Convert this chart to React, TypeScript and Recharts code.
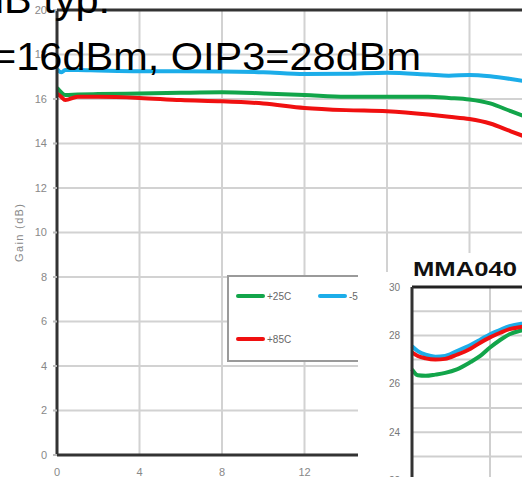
import React from 'react';
import { LineChart, Line, XAxis, YAxis, CartesianGrid, ReferenceLine, Legend } from 'recharts';

// Main chart: Gain (dB) vs frequency (GHz)
const freqGHz = [0, 0.2, 0.4, 1, 2, 4, 6, 8, 10, 12, 14, 16, 18, 19, 20, 21, 22, 23];
const gainMinus55 = [17.35, 17.2, 17.3, 17.3, 17.28, 17.25, 17.25, 17.24, 17.2, 17.12, 17.13, 17.18, 17.1, 17.05, 17.08, 17.02, 16.9, 16.75];
const gainPlus25 = [16.5, 16.3, 16.18, 16.2, 16.22, 16.25, 16.28, 16.3, 16.25, 16.18, 16.1, 16.1, 16.1, 16.05, 15.98, 15.8, 15.45, 15.1];
const gainPlus85 = [16.25, 16.1, 15.95, 16.1, 16.1, 16.05, 15.95, 15.9, 15.8, 15.6, 15.5, 15.45, 15.3, 15.2, 15.1, 14.9, 14.55, 14.2];
const mainXTicks = [0, 4, 8, 12, 16, 20, 24];
const mainYTicks = [0, 2, 4, 6, 8, 10, 12, 14, 16, 18, 20];

// Inset chart (OIP3-like curves)
const insetFreq = [0, 0.3, 0.7, 1.2, 1.7, 2.3, 3, 3.5, 4, 4.5, 5, 5.6, 6.2];
const insetMinus55 = [27.55, 27.35, 27.2, 27.12, 27.15, 27.35, 27.6, 27.82, 28.05, 28.22, 28.38, 28.48, 28.52];
const insetPlus85 = [27.3, 27.15, 27.05, 27.0, 27.03, 27.2, 27.45, 27.7, 27.92, 28.1, 28.26, 28.35, 28.4];
const insetPlus25 = [26.6, 26.35, 26.33, 26.38, 26.45, 26.6, 26.9, 27.15, 27.5, 27.8, 28.05, 28.2, 28.28];
const insetXTicks = [0, 4, 8, 12, 16, 20];
const insetYTicks = [20, 21, 22, 23, 24, 25, 26, 27, 28, 29, 30];

const seriesNames = { cold: '-55C', room: '+25C', hot: '+85C' };
const colors = { cold: '#1cade9', room: '#12a54a', hot: '#f01010' };

const mainData = freqGHz.map((f, i) => ({ f, cold: gainMinus55[i], room: gainPlus25[i], hot: gainPlus85[i] }));
const insetData = insetFreq.map((f, i) => ({ f, cold: insetMinus55[i], room: insetPlus25[i], hot: insetPlus85[i] }));

const smallFont = 'Liberation Sans, Arial, sans-serif';

const LegendBox = () => (
  <div
    style={{
      width: 170,
      height: 83,
      border: '2px solid #9a9a9a',
      background: '#fff',
      position: 'relative',
      fontFamily: smallFont,
      fontSize: 10,
      color: '#666',
    }}
  >
    {[
      { key: 'room', left: 7, top: 19 },
      { key: 'cold', left: 89, top: 19 },
      { key: 'hot', left: 7, top: 62 },
    ].map((it) => (
      <div key={it.key} style={{ position: 'absolute', left: it.left, top: it.top - 7, display: 'flex', alignItems: 'center', height: 14 }}>
        <div style={{ width: 29, height: 4, background: (colors as any)[it.key], borderRadius: 2 }} />
        <span style={{ marginLeft: 2 }}>{(seriesNames as any)[it.key]}</span>
      </div>
    ))}
  </div>
);

const InsetTick = (props: any) => {
  const { x, y, payload } = props;
  if (payload.value % 2 !== 0) return null;
  return (
    <text x={x} y={y} dy={3.5} textAnchor="end" fontSize={10} fill="#777" fontFamily={smallFont}>
      {payload.value}
    </text>
  );
};

export default function App() {
  return (
    <div style={{ position: 'absolute', left: 0, top: 0, width: 522, height: 477, overflow: 'hidden', background: '#fff' }}>
      <div style={{ position: 'absolute', left: 0, top: 0 }}>
        <LineChart width={552} height={477} data={mainData} margin={{ top: 10, right: 0, bottom: 0, left: 17 }}>
          <CartesianGrid stroke="#d2d2d2" strokeWidth={2} />
          <XAxis
            dataKey="f"
            type="number"
            domain={[0, 24]}
            ticks={mainXTicks}
            allowDataOverflow
            height={22}
            axisLine={{ stroke: '#333', strokeWidth: 3 }}
            tickLine={false}
            tickSize={4}
            tickMargin={9}
            tick={{ fontSize: 11, fill: '#888', fontFamily: smallFont }}
          />
          <YAxis
            type="number"
            domain={[0, 20]}
            ticks={mainYTicks}
            width={40}
            axisLine={{ stroke: '#333', strokeWidth: 3 }}
            tickLine={{ stroke: '#bbb', strokeWidth: 2 }}
            tickSize={4}
            tickMargin={6}
            tick={{ fontSize: 11, fill: '#888', fontFamily: smallFont }}
          />
          <ReferenceLine y={20} stroke="#333" strokeWidth={3} />
          <Line type="monotone" dataKey="cold" name={seriesNames.cold} stroke={colors.cold} strokeWidth={4} dot={false} isAnimationActive={false} />
          <Line type="monotone" dataKey="room" name={seriesNames.room} stroke={colors.room} strokeWidth={4} dot={false} isAnimationActive={false} />
          <Line type="monotone" dataKey="hot" name={seriesNames.hot} stroke={colors.hot} strokeWidth={4} dot={false} isAnimationActive={false} />
          <Legend
            layout="vertical"
            align="center"
            verticalAlign="middle"
            content={() => <LegendBox />}
            wrapperStyle={{ position: 'absolute', left: 227, top: 275, width: 174, height: 87 }}
          />
        </LineChart>
      </div>

      <svg width={522} height={477} style={{ position: 'absolute', left: 0, top: 0 }}>
        <text transform="translate(23,233) rotate(-90)" textAnchor="middle" fontSize={11} fill="#888" fontFamily={smallFont} textLength={58} lengthAdjust="spacing">
          Gain (dB)
        </text>
        <text x={-19} y={13} fontSize={38} fill="#000" fontFamily={smallFont} textLength={129} lengthAdjust="spacingAndGlyphs">
          dB typ.
        </text>
        <text x={-8} y={70} fontSize={38} fill="#000" fontFamily={smallFont} textLength={429} lengthAdjust="spacingAndGlyphs">
          =16dBm, OIP3=28dBm
        </text>
      </svg>

      <div style={{ position: 'absolute', left: 395, top: 253, width: 127, height: 20, background: '#fff' }} />
      <div style={{ position: 'absolute', left: 358, top: 272, width: 164, height: 205, background: '#fff', overflow: 'hidden' }}>
        <LineChart width={444} height={257} data={insetData} margin={{ top: 15, right: 0, bottom: 0, left: 14 }}>
          <CartesianGrid stroke="#cfcfcf" strokeWidth={2} />
          <XAxis dataKey="f" type="number" domain={[0, 20]} ticks={insetXTicks} hide />
          <YAxis
            type="number"
            domain={[20, 30]}
            ticks={insetYTicks}
            interval={0}
            width={40}
            axisLine={{ stroke: '#333', strokeWidth: 3 }}
            tickLine={false}
            tickSize={4}
            tickMargin={8}
            tick={<InsetTick />}
          />
          <ReferenceLine y={30} stroke="#222" strokeWidth={3} />
          <Line type="monotone" dataKey="cold" stroke={colors.cold} strokeWidth={4} dot={false} isAnimationActive={false} />
          <Line type="monotone" dataKey="room" stroke={colors.room} strokeWidth={4} dot={false} isAnimationActive={false} />
          <Line type="monotone" dataKey="hot" stroke={colors.hot} strokeWidth={4} dot={false} isAnimationActive={false} />
        </LineChart>
      </div>
      <svg width={522} height={477} style={{ position: 'absolute', left: 0, top: 0, pointerEvents: 'none' }}>
        <text x={413} y={276} fontSize={21} fontWeight="bold" fill="#111" fontFamily={smallFont} textLength={104} lengthAdjust="spacingAndGlyphs">
          MMA040
        </text>
      </svg>
    </div>
  );
}
